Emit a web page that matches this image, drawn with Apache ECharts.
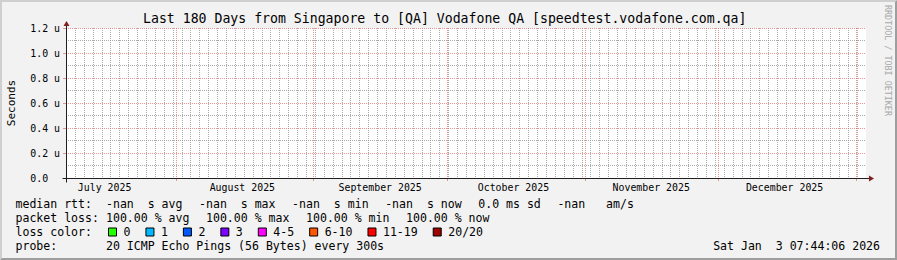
<!DOCTYPE html>
<html><head><meta charset="utf-8">
<script src="https://cdn.jsdelivr.net/npm/echarts@6/dist/echarts.min.js"></script>
<style>html,body{margin:0;padding:0;background:#f2f2f2;}#c{width:897px;height:260px;}</style>
</head><body><div id="c"></div>
<script>
// ---- data ----
const titleText = 'Last 180 Days from Singapore to [QA] Vodafone QA [speedtest.vodafone.com.qa]';
const yAxisTitle = 'Seconds';
const yTickValues = [0, 0.2, 0.4, 0.6, 0.8, 1.0, 1.2];          // microseconds
const yTickLabels = ['0.0  ', '0.2 u', '0.4 u', '0.6 u', '0.8 u', '1.0 u', '1.2 u'];
const monthStarts = [[2025,7],[2025,8],[2025,9],[2025,10],[2025,11],[2026,0]];
const monthLabelMonths = [[2025,6],[2025,7],[2025,8],[2025,9],[2025,10],[2025,11]];
const monthLabels = ['July 2025','August 2025','September 2025','October 2025','November 2025','December 2025'];
const medianRtt = [];   // every sample is -nan (100% loss) -> nothing drawn
const lossNames = ['0','1','2','3','4-5','6-10','11-19','20/20'];
const lossColors = ['#26ff00','#00b8ff','#0059ff','#7e00ff','#ff00ff','#ff5500','#ff0000','#a10000'];
const medianStats = ['-nan  s avg','-nan  s max','-nan  s min','-nan  s now','0.0 ms sd','-nan   am/s'];
const lossStats = ['100.00 % avg','100.00 % max','100.00 % min','100.00 % now'];
const rowLabels = ['median rtt:','packet loss:','loss color:','probe:'];
const probeText = '20 ICMP Echo Pings (56 Bytes) every 300s';
const stampText = 'Sat Jan  3 07:44:06 2026';
const watermark = 'RRDTOOL / TOBI OETIKER';

// ---- time range in real UTC ms; local clock is SGT (UTC+8) ----
const DAY = 86400000, TZ = 8 * 3600000;
const endTs = Date.UTC(2026, 0, 3, 7, 44, 6) - TZ;
const startTs = endTs - 180 * DAY;
const monthStartTs = monthStarts.map(([y, m]) => Date.UTC(y, m, 1) - TZ).filter(v => v > startTs && v < endTs);
const monthLabelTs = monthLabelMonths.map(([y, m]) => Date.UTC(y, m, 16) - TZ);
const minorTs = [];   // rrdtool minor grid: every 2 days, aligned to UTC epoch
for (let t = Math.ceil(startTs / (2 * DAY)) * 2 * DAY; t < endTs; t += 2 * DAY) minorTs.push(t);

const MONO = '"DejaVu Sans Mono", monospace';
const GRID = 'rgba(143,143,143,0.75)';
const MGRID = 'rgba(222,79,79,0.6)';
const AXIS = '#1f1f1f', ARROW = '#801f1f';

function vGrid(color, tick) {
  return function (params, api) {
    const b = api.coord([api.value(0), 0]);
    const t = api.coord([api.value(0), 1.2]);
    const x = Math.round(b[0]) + 0.5;
    return {type: 'group', children: [
      {type: 'line', shape: {x1: x, y1: Math.round(t[1]), x2: x, y2: Math.round(b[1])}, style: {stroke: color, lineWidth: 1, lineDash: [1, 1]}},
      tick ? {type: 'line', shape: {x1: x, y1: Math.round(b[1]), x2: x, y2: Math.round(b[1]) + 3}, style: {stroke: color, lineWidth: 1}} : null
    ].filter(Boolean)};
  };
}

const chart = echarts.init(document.getElementById('c'), null, {renderer: 'svg', width: 897, height: 260});
chart.setOption({
  animation: false,
  backgroundColor: '#f2f2f2',
  grid: {left: 66, top: 28, width: 800, height: 150, show: true, backgroundColor: '#ffffff', borderWidth: 0},
  xAxis: {type: 'value', min: startTs, max: endTs, position: 'bottom',
     axisLine: {show: false}, axisTick: {show: false},
     axisLabel: {show: true, customValues: monthLabelTs, margin: 4, fontFamily: MONO, fontSize: 9.9, color: '#000',
       formatter: v => { const i = monthLabelTs.indexOf(v); return i >= 0 ? monthLabels[i] : ''; }},
     splitLine: {show: false}},
  yAxis: {type: 'value', min: 0, max: 1.2, interval: 0.2,
    axisLine: {show: false},
    axisTick: {show: true, length: 3, lineStyle: {color: MGRID}},
    axisLabel: {margin: 6, fontFamily: MONO, fontSize: 9.9, color: '#000',
      formatter: v => { const i = yTickValues.findIndex(t => Math.abs(t - v) < 1e-9); return i >= 0 ? yTickLabels[i] : ''; }},
    splitLine: {show: true, lineStyle: {color: MGRID, width: 1, type: [1, 1]}},
    minorTick: {show: false, splitNumber: 2},
    minorSplitLine: {show: true, lineStyle: {color: GRID, width: 1, type: [1, 1]}}},
  legend: {data: lossNames, left: 108, top: 226, padding: 0, icon: 'rect', itemWidth: 8, itemHeight: 8, itemGap: 15,
    selectedMode: false, textStyle: {fontFamily: MONO, fontSize: 11.56, color: '#000', padding: [0, 0, 0, 2]},
    itemStyle: {borderColor: '#000', borderWidth: 1}},
  series: [
    {type: 'custom', name: 'minor grid', silent: true, z: 1, renderItem: vGrid(GRID, false), data: minorTs.map(v => [v, 0]), clip: false},
    {type: 'custom', name: 'major grid', silent: true, z: 2, renderItem: vGrid(MGRID, true), data: monthStartTs.map(v => [v, 0]), clip: false},
    {type: 'line', name: 'median rtt', data: medianRtt, showSymbol: false, lineStyle: {color: '#00ff00'}}
  ].concat(lossNames.map((n, i) => ({type: 'bar', name: n, data: [], itemStyle: {color: lossColors[i]}})))
});

// ---- frame, axes, arrows and legend text ----
const bl = chart.convertToPixel({xAxisIndex: 0, yAxisIndex: 0}, [startTs, 0]);
const tr = chart.convertToPixel({xAxisIndex: 0, yAxisIndex: 0}, [endTs, 1.2]);
const ax = Math.round(bl[0]) + 0.5, ay = Math.round(bl[1]) + 0.5, rx = Math.round(tr[0]), ty = Math.round(tr[1]);
const W = 897, H = 260;
const txt = (x, y, s, extra) => Object.assign({type: 'text', silent: true, z: 50, style: Object.assign({
  x: x, y: y, text: s, font: '11.56px ' + MONO, fill: '#000', textAlign: 'left', textVerticalAlign: 'middle', align: 'left', verticalAlign: 'middle'}, extra || {})});
const els = [
  {type: 'polygon', silent: true, z: 1, shape: {points: [[0,0],[W,0],[W-2,2],[2,2],[2,H-2],[0,H]]}, style: {fill: '#cfcfcf'}},
  {type: 'polygon', silent: true, z: 1, shape: {points: [[0,H],[W,H],[W,0],[W-2,2],[W-2,H-2],[2,H-2]]}, style: {fill: '#9e9e9e'}},
  {type: 'line', silent: true, z: 40, shape: {x1: ax - 4, y1: ay, x2: rx + 3, y2: ay}, style: {stroke: AXIS, lineWidth: 1}},
  {type: 'line', silent: true, z: 40, shape: {x1: ax, y1: ay + 4, x2: ax, y2: ty - 3}, style: {stroke: AXIS, lineWidth: 1}},
  {type: 'polygon', silent: true, z: 41, shape: {points: [[rx + 3, ay - 3],[rx + 3, ay + 3],[rx + 8, ay]]}, style: {fill: ARROW}},
  {type: 'polygon', silent: true, z: 41, shape: {points: [[ax - 3, ty - 2],[ax + 3, ty - 2],[ax, ty - 7]]}, style: {fill: ARROW}},
  txt(143, 18.5, titleText, {font: '13.2px ' + MONO}),
  txt(0, 0, yAxisTitle, {font: '11px ' + MONO, textAlign: 'center', align: 'center'}),
  txt(0, 0, watermark, {font: '8.4px ' + MONO, fill: '#a8a8a8'}),
  txt(880, 246.3, stampText, {textAlign: 'right', align: 'right'})
];
els[7].rotation = Math.PI / 2; els[7].x = 11; els[7].y = (bl[1] + tr[1]) / 2;
els[8].rotation = -Math.PI / 2; els[8].x = 888; els[8].y = 5;

const PITCH = 6.96, GAP = 16.5, COL2 = 106;
const rowY = [204.3, 218.3, 232.3, 246.3];
rowLabels.forEach((s, i) => els.push(txt(15.5, rowY[i], s)));
[[medianStats, 0], [lossStats, 1]].forEach(([items, r]) => {
  let x = COL2;
  items.forEach(s => { els.push(txt(x, rowY[r], s)); x += s.length * PITCH + GAP; });
});
els.push(txt(COL2, rowY[3], probeText));
chart.setOption({graphic: {elements: els}});
</script></body></html>
